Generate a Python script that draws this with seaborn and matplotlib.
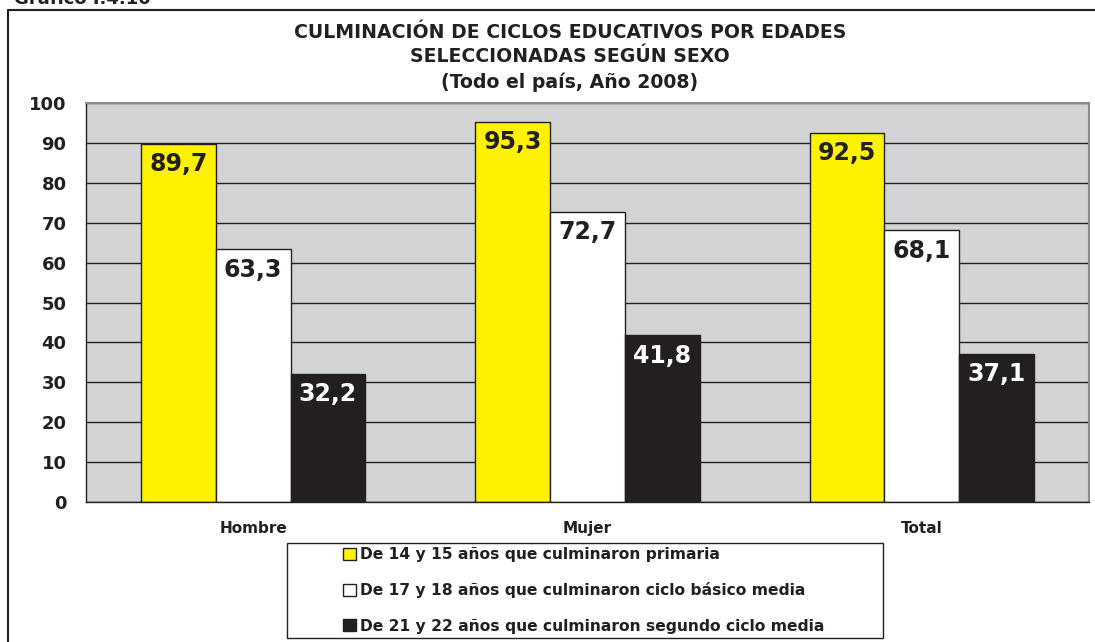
import matplotlib
matplotlib.use("Agg")
import matplotlib.pyplot as plt
import seaborn as sns
import pandas as pd
from matplotlib.patches import Patch, Rectangle
from matplotlib.lines import Line2D
from matplotlib.ticker import FixedLocator

# ---- data ----
categorias = ["Hombre", "Mujer", "Total"]
series = [
    "De 14 y 15 años que culminaron primaria",
    "De 17 y 18 años que culminaron ciclo básico media",
    "De 21 y 22 años que culminaron segundo ciclo media",
]
primaria = [89.7, 95.3, 92.5]
basico = [63.3, 72.7, 68.1]
segundo = [32.2, 41.8, 37.1]
valores = [primaria, basico, segundo]
yticks = [0, 10, 20, 30, 40, 50, 60, 70, 80, 90, 100]
titulo = ["CULMINACIÓN DE CICLOS EDUCATIVOS POR EDADES",
          "SELECCIONADAS SEGÚN SEXO",
          "(Todo el país, Año 2008)"]
encabezado = "Gráfico I.4.10"

colores = ["#FFF200", "#FFFFFF", "#231F20"]
label_colors = ["#231F20", "#231F20", "#FFFFFF"]
ink = "#231F20"

rows = []
for s, vals in zip(series, valores):
    for c, v in zip(categorias, vals):
        rows.append({"cat": c, "serie": s, "val": v})
df = pd.DataFrame(rows)

sns.set_style("white")
plt.rcParams["font.family"] = ["DejaVu Sans"]
plt.rcParams["font.weight"] = "bold"

W, H = 1095, 642
fig = plt.figure(figsize=(W / 100, H / 100), dpi=100)
fig.patch.set_facecolor("white")

def fx(px):
    return px / W

def fy(py):
    return 1 - py / H

ax = fig.add_axes([fx(86), fy(502), fx(1089) - fx(86), fy(103) - fy(502)])
ax.set_facecolor("#D3D3D5")

sns.barplot(data=df, x="cat", y="val", hue="serie", hue_order=series,
            order=categorias, palette=colores, width=0.67,
            edgecolor=ink, linewidth=1.0, saturation=1, ax=ax, legend=False)

ax.set_xlim(-0.5, 2.5)
ax.set_ylim(0, 100)
ax.set_yticks(yticks)
ax.set_yticklabels([str(t) for t in yticks], fontsize=13, fontweight="bold", color=ink)
ax.set_axisbelow(True)
ax.yaxis.grid(True, color=ink, linewidth=1.0)
ax.set_xlabel("")
ax.set_ylabel("")
ax.tick_params(axis="y", direction="out", length=6, width=1, color=ink, pad=8)
ax.tick_params(axis="x", which="major", length=0, pad=14)
ax.set_xticklabels(categorias, fontsize=11, fontweight="bold", color=ink)
ax.xaxis.set_minor_locator(FixedLocator([-0.5, 0.5, 1.5, 2.5]))
ax.tick_params(axis="x", which="minor", direction="out", length=5, width=1, color=ink)

for side in ["left", "bottom"]:
    ax.spines[side].set_color(ink)
    ax.spines[side].set_linewidth(1.0)
for side in ["top", "right"]:
    ax.spines[side].set_color("#8C8C8C")
    ax.spines[side].set_linewidth(1.5)
    ax.spines[side].set_visible(True)

for cont, lc in zip(ax.containers, label_colors):
    for bar in cont:
        h = bar.get_height()
        ax.annotate(f"{h:.1f}".replace(".", ","),
                    (bar.get_x() + bar.get_width() / 2, h),
                    xytext=(0, -6), textcoords="offset points",
                    ha="center", va="top", fontsize=17, fontweight="bold", color=lc)

# title
for line, ypx in zip(titulo, [32, 57, 82]):
    fig.text(fx(570), fy(ypx), line, ha="center", va="center",
             fontsize=13.6, fontweight="bold", color=ink)

# clipped header
fig.text(fx(14), fy(4), encabezado, ha="left", va="baseline",
         fontsize=13, fontweight="bold", color=ink)

# outer frame
fig.add_artist(Line2D([fx(8), fx(8)], [fy(10), fy(645)], color=ink, lw=1.5,
                      transform=fig.transFigure))
fig.add_artist(Line2D([fx(8), fx(1095)], [fy(10), fy(10)], color=ink, lw=1.5,
                      transform=fig.transFigure))

# legend box
fig.add_artist(Rectangle((fx(287), fy(638)), fx(883) - fx(287), fy(543) - fy(638),
                         transform=fig.transFigure, facecolor="white",
                         edgecolor=ink, lw=1.0))
handles = [Patch(facecolor=c, edgecolor=ink, linewidth=1.0) for c in colores]
leg = fig.legend(handles, series, loc="upper left",
                 bbox_to_anchor=(fx(337), fy(541)), frameon=False,
                 prop={"family": "DejaVu Sans", "weight": "bold", "size": 11.2},
                 handlelength=0.8, handleheight=0.8, handletextpad=0.25,
                 labelspacing=1.3, borderaxespad=0)
for t in leg.get_texts():
    t.set_color(ink)

fig.savefig("out.png", dpi=100)
